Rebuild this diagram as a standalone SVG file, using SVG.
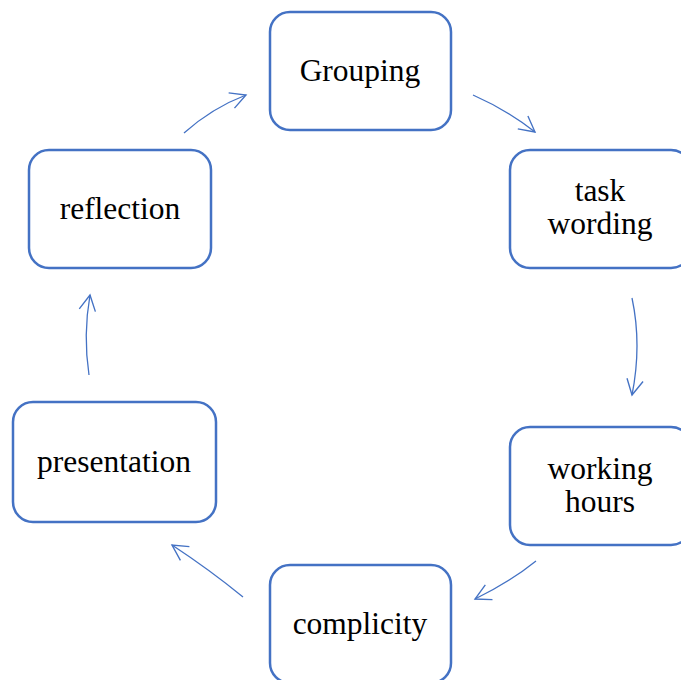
<svg xmlns="http://www.w3.org/2000/svg" width="681" height="680" viewBox="0 0 681 680">
<style>
.box{fill:#fff;stroke:#4472C4;stroke-width:2.5}
.t{font-family:"Liberation Serif","Times New Roman",serif;font-size:31.5px;fill:#000;text-anchor:middle}
.c{fill:none;stroke:#4472C4;stroke-width:1.3;marker-end:url(#ah)}
</style>
<defs>
<marker id="ah" markerWidth="20" markerHeight="20" viewBox="-20 -10 22 20" refX="0" refY="0" orient="auto" markerUnits="userSpaceOnUse">
<path d="M-17,-9 L0,0 L-17,9" fill="none" stroke="#4472C4" stroke-width="1.5"/>
</marker>
</defs>
<rect width="681" height="680" fill="#fff"/>
<g id="connectors">
<path class="c" d="M184,133 Q212,108 246,95"/>
<path class="c" d="M473,95 Q507,110 535,132"/>
<path class="c" d="M632,298 Q642,345 632,395"/>
<path class="c" d="M536,561 Q510,582 475,599"/>
<path class="c" d="M243,597 Q210,570 172,545"/>
<path class="c" d="M89,375 Q83,335 90,295"/>
</g>
<g id="grouping"><rect class="box" x="270" y="12" width="181" height="118" rx="20"/><text class="t" x="360" y="81">Grouping</text></g>
<g id="task-wording"><rect class="box" x="510" y="150" width="181" height="118" rx="20"/><text class="t" x="600" y="201">task</text><text class="t" x="600" y="234">wording</text></g>
<g id="working-hours"><rect class="box" x="510" y="427" width="181" height="118" rx="20"/><text class="t" x="600" y="479">working</text><text class="t" x="600" y="512">hours</text></g>
<g id="complicity"><rect class="box" x="270" y="565" width="181" height="118" rx="20"/><text class="t" x="360" y="634">complicity</text></g>
<g id="presentation"><rect class="box" x="13" y="402" width="203" height="120" rx="20"/><text class="t" x="114" y="472">presentation</text></g>
<g id="reflection"><rect class="box" x="29" y="150" width="182" height="118" rx="20"/><text class="t" x="120" y="219">reflection</text></g>
</svg>
